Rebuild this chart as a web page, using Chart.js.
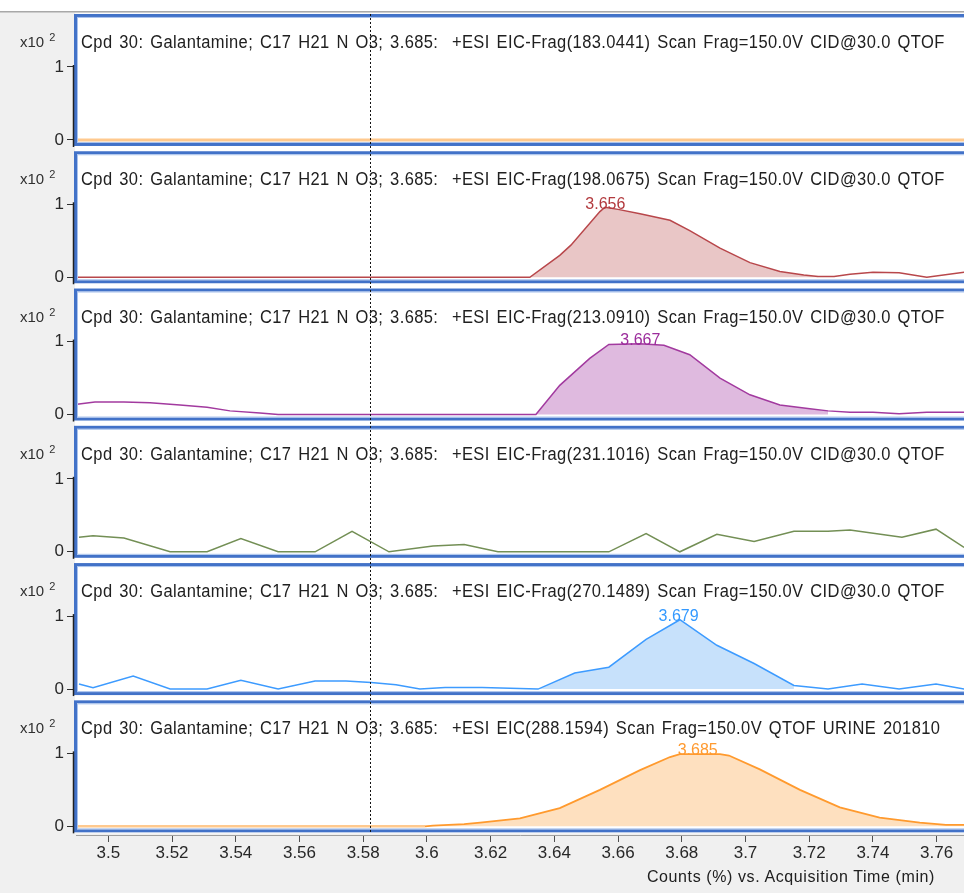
<!DOCTYPE html>
<html>
<head>
<meta charset="utf-8">
<script src="https://cdn.jsdelivr.net/npm/chart.js@4.4.1/dist/chart.umd.min.js"></script>
<style>
html,body{margin:0;padding:0;background:#f0f0f0;overflow:hidden;}
#wrap{position:relative;width:964px;height:893px;overflow:hidden;}
#c{position:absolute;left:0;top:0;}
.ttl{position:absolute;left:81px;font-family:"Liberation Sans",Arial,sans-serif;font-size:16.5px;letter-spacing:0.4px;word-spacing:1.8px;color:#202020;white-space:pre;line-height:18px;transform:scaleY(1.06);transform-origin:left center;}
.mag{position:absolute;left:20px;font-family:"Liberation Sans",Arial,sans-serif;font-size:15px;color:#303030;line-height:18px;white-space:pre;}
.mag sup{font-size:11px;margin-left:5px;vertical-align:6px;line-height:0;}
#xtitle{position:absolute;right:29px;top:868px;font-family:"Liberation Sans",Arial,sans-serif;font-size:16px;letter-spacing:0.6px;color:#202020;white-space:pre;line-height:18px;}
</style>
</head>
<body>
<div id="wrap">
<canvas id="c" width="964" height="893"></canvas>
<div id="titles"></div>
<div id="xtitle">Counts (%) vs. Acquisition Time (min)</div>
</div>
<script>
// ---------- data ----------
const panelTitles = [
  "Cpd 30: Galantamine; C17 H21 N O3; 3.685:  +ESI EIC-Frag(183.0441) Scan Frag=150.0V CID@30.0 QTOF",
  "Cpd 30: Galantamine; C17 H21 N O3; 3.685:  +ESI EIC-Frag(198.0675) Scan Frag=150.0V CID@30.0 QTOF",
  "Cpd 30: Galantamine; C17 H21 N O3; 3.685:  +ESI EIC-Frag(213.0910) Scan Frag=150.0V CID@30.0 QTOF",
  "Cpd 30: Galantamine; C17 H21 N O3; 3.685:  +ESI EIC-Frag(231.1016) Scan Frag=150.0V CID@30.0 QTOF",
  "Cpd 30: Galantamine; C17 H21 N O3; 3.685:  +ESI EIC-Frag(270.1489) Scan Frag=150.0V CID@30.0 QTOF",
  "Cpd 30: Galantamine; C17 H21 N O3; 3.685:  +ESI EIC(288.1594) Scan Frag=150.0V QTOF URINE 201810"
];
const magnitudeLabel = "x10";
const magnitudeExp = "2";

const t183 = [3.4902, 3.7686];
const v183 = [0, 0];

const t198 = [3.4902, 3.6323, 3.6417, 3.6452, 3.6543, 3.6559, 3.6600, 3.6669, 3.6763, 3.6825, 3.6920, 3.7014, 3.7108, 3.7183, 3.7228, 3.7278, 3.7328, 3.7400, 3.7482, 3.7569, 3.7686];
const v198 = [0, 0, 0.30, 0.44, 0.90, 0.96, 0.93, 0.87, 0.78, 0.64, 0.40, 0.20, 0.08, 0.03, 0.01, 0.01, 0.04, 0.07, 0.06, 0.00, 0.07];

const t213 = [3.4902, 3.4958, 3.5049, 3.5131, 3.5225, 3.5310, 3.5382, 3.5476, 3.5533, 3.6323, 3.6342, 3.6417, 3.6511, 3.6571, 3.6669, 3.6744, 3.6825, 3.6920, 3.7014, 3.7108, 3.7202, 3.7259, 3.7328, 3.7400, 3.7482, 3.7569, 3.7686];
const v213 = [0.14, 0.17, 0.17, 0.16, 0.13, 0.10, 0.05, 0.02, 0.00, 0.00, 0.00, 0.40, 0.77, 0.96, 0.97, 0.95, 0.82, 0.50, 0.27, 0.13, 0.08, 0.05, 0.03, 0.03, 0.01, 0.03, 0.03];

const t231 = [3.4908, 3.4952, 3.5049, 3.5194, 3.5310, 3.5416, 3.5533, 3.5649, 3.5765, 3.5881, 3.6019, 3.6117, 3.6223, 3.6571, 3.6688, 3.6794, 3.6910, 3.7027, 3.7152, 3.7259, 3.7328, 3.7491, 3.7598, 3.7686];
const v231 = [0.20, 0.22, 0.19, 0.00, 0.00, 0.18, 0.00, 0.00, 0.28, 0.00, 0.08, 0.10, 0.00, 0.00, 0.25, 0.00, 0.24, 0.14, 0.28, 0.28, 0.30, 0.20, 0.31, 0.06];

const t270 = [3.4908, 3.4952, 3.5078, 3.5194, 3.5310, 3.5416, 3.5533, 3.5649, 3.5746, 3.5825, 3.5903, 3.5978, 3.6057, 3.6173, 3.6349, 3.6464, 3.6571, 3.6688, 3.6794, 3.6910, 3.7027, 3.7152, 3.7259, 3.7366, 3.7482, 3.7598, 3.7686];
const v270 = [0.07, 0.02, 0.18, 0.00, 0.00, 0.12, 0.00, 0.11, 0.11, 0.09, 0.06, 0.00, 0.02, 0.02, 0.00, 0.22, 0.30, 0.68, 0.95, 0.60, 0.35, 0.05, 0.00, 0.07, 0.00, 0.07, 0.00];

const t288 = [3.4902, 3.5994, 3.6019, 3.6117, 3.6167, 3.6292, 3.6417, 3.6543, 3.6669, 3.6763, 3.6794, 3.6920, 3.6948, 3.7045, 3.7171, 3.7296, 3.7421, 3.7547, 3.7629, 3.7686];
const v288 = [0, 0, 0.01, 0.03, 0.05, 0.11, 0.25, 0.50, 0.77, 0.95, 0.99, 0.99, 0.97, 0.78, 0.50, 0.26, 0.12, 0.05, 0.02, 0.02];

const panelTimes = [t183, t198, t213, t231, t270, t288];
const panelValues = [v183, v198, v213, v231, v270, v288];

const peakWindows = [null, [3.6323, 3.7228], [3.6342, 3.7259], null, [3.6349, 3.7183], [3.5994, 3.7686]];
const peakTimes = [null, 3.656, 3.667, null, 3.679, 3.685];
const peakLabels = [null, "3.656", "3.667", null, "3.679", "3.685"];
const cursorTime = 3.5822;

const xTickValues = [3.5, 3.52, 3.54, 3.56, 3.58, 3.6, 3.62, 3.64, 3.66, 3.68, 3.7, 3.72, 3.74, 3.76];
const xTickLabels = ["3.5", "3.52", "3.54", "3.56", "3.58", "3.6", "3.62", "3.64", "3.66", "3.68", "3.7", "3.72", "3.74", "3.76"];
const yTickValues = [0, 1];
const yTickLabels = ["0", "1"];

// ---------- styles ----------
const lineColors = ["#ffc98e", "#b8474b", "#a23a9f", "#738f55", "#3d9bff", "#ff9a2e"];
const baselineColors = [null, null, null, null, null, "#ffc98e"];
const lineWidths = [3, 1.5, 1.5, 1.5, 1.5, 1.8];
const fillColors = [null, "#e9c6c6", "#dfbadf", null, "#c7e1fb", "#fee0bf"];
const labelColors = [null, "#b23a3e", "#9c2c9c", null, "#3399ff", "#ff9a30"];
const FONT = '"Liberation Sans", Arial, sans-serif';

// ---------- build ----------
const datasets = [];
for (let k = 0; k < 6; k++) {
  const pts = panelTimes[k].map((t, i) => ({x: t, y: panelValues[k][i]}));
  const w = peakWindows[k];
  const ds = {
    data: pts, yAxisID: 'y' + k, borderColor: lineColors[k], borderWidth: lineWidths[k],
    pointRadius: 0, fill: false, tension: 0, order: 1
  };
  if (baselineColors[k] && w) {
    ds.segment = {
      borderColor: c => (c.p1.parsed.x <= w[0] + 1e-9) ? baselineColors[k] : undefined,
      borderWidth: c => (c.p1.parsed.x <= w[0] + 1e-9) ? 2.5 : undefined
    };
  }
  datasets.push(ds);
  if (w) {
    datasets.push({
      data: pts.filter(p => p.x >= w[0] - 1e-9 && p.x <= w[1] + 1e-9),
      yAxisID: 'y' + k, borderWidth: 0, borderColor: 'rgba(0,0,0,0)',
      backgroundColor: fillColors[k], pointRadius: 0, fill: 'origin', tension: 0, order: 2
    });
  }
}

const scales = {
  x: {
    type: 'linear', position: 'bottom', min: 3.48986, max: 3.76858,
    afterBuildTicks: s => { s.ticks = xTickValues.map(v => ({value: v})); },
    afterFit: s => { s.height = 58; s.paddingLeft = 0; s.paddingRight = 0; },
    ticks: { callback: v => xTickLabels[xTickValues.indexOf(v)], font: {size: 17, family: FONT}, color: '#282828', padding: 1, maxRotation: 0, autoSkip: false },
    grid: { drawOnChartArea: false, drawTicks: true, tickLength: 7, color: '#505050' },
    border: { display: true, color: '#a0a0a0' }
  }
};
for (let k = 0; k < 6; k++) {
  scales['y' + k] = {
    type: 'linear', position: 'left', stack: 'panels', stackWeight: 1, weight: 6 - k,
    min: -0.1185, max: 1.7623,
    afterBuildTicks: s => { s.ticks = yTickValues.map(v => ({value: v})); },
    afterFit: s => { s.width = 76; s.paddingTop = 0; s.paddingBottom = 0; },
    ticks: { callback: v => yTickLabels[yTickValues.indexOf(v)], font: {size: 17, family: FONT}, color: '#282828', padding: 3 },
    grid: { drawOnChartArea: false, drawTicks: true, tickLength: 9, color: '#303030' },
    border: { display: false }
  };
}

const decor = {
  id: 'decor',
  beforeDraw(chart) {
    const ctx = chart.ctx, W = chart.width, H = chart.height;
    ctx.save();
    ctx.fillStyle = '#f0f0f0'; ctx.fillRect(0, 0, W, H);
    ctx.fillStyle = '#ffffff'; ctx.fillRect(0, 0, W, 11);
    ctx.fillStyle = '#a8a8a8'; ctx.fillRect(0, 11, W, 1.5);
    const xs = chart.scales.x;
    const top0 = chart.scales.y0.getPixelForValue(0) - 126;
    const bot5 = chart.scales.y5.getPixelForValue(0) + 6;
    ctx.fillStyle = '#ffffff'; ctx.fillRect(xs.left - 1, top0 - 1, W, bot5 - top0 + 2);
    ctx.restore();
  },
  afterDatasetsDraw(chart) {
    const ctx = chart.ctx, xs = chart.scales.x;
    ctx.save();
    let firstTop = 0, lastBot = 0;
    for (let k = 0; k < 6; k++) {
      const ys = chart.scales['y' + k];
      const z = ys.getPixelForValue(0), one = ys.getPixelForValue(1);
      const top = z - 126, bot = z + 6;
      if (k === 0) firstTop = top;
      if (k === 5) lastBot = bot;
      ctx.strokeStyle = '#4272c8'; ctx.lineWidth = 3;
      ctx.strokeRect(xs.left - 0.5, top + 1.5, chart.width + 20, bot - top - 3);
      ctx.strokeStyle = '#a9c2ec'; ctx.lineWidth = 1;
      ctx.strokeRect(xs.left + 1.5, top + 3.5, chart.width + 20, bot - top - 7);
      ctx.strokeStyle = '#202020'; ctx.lineWidth = 1.5;
      ctx.beginPath(); ctx.moveTo(xs.left - 2.5, one - 2); ctx.lineTo(xs.left - 2.5, bot + 1); ctx.stroke();
      if (peakLabels[k]) {
        let vmax = 0;
        panelValues[k].forEach((v, i) => { if (panelTimes[k][i] >= peakWindows[k][0] && panelTimes[k][i] <= peakWindows[k][1]) vmax = Math.max(vmax, v); });
        ctx.fillStyle = labelColors[k];
        ctx.font = '16px ' + FONT;
        ctx.textAlign = 'center'; ctx.textBaseline = 'middle';
        ctx.fillText(peakLabels[k], xs.getPixelForValue(peakTimes[k]), ys.getPixelForValue(vmax) - 3);
      }
    }
    const cx = Math.round(xs.getPixelForValue(cursorTime)) + 0.5;
    ctx.strokeStyle = '#111'; ctx.lineWidth = 1; ctx.setLineDash([2, 2]);
    ctx.beginPath(); ctx.moveTo(cx, firstTop); ctx.lineTo(cx, lastBot); ctx.stroke();
    ctx.restore();
  }
};

const chart = new Chart(document.getElementById('c'), {
  type: 'line',
  data: { datasets },
  options: {
    responsive: false, animation: false, devicePixelRatio: 1,
    layout: { padding: { top: 11.35, left: 0, right: 0, bottom: 0 } },
    plugins: { legend: { display: false }, tooltip: { enabled: false } },
    scales
  },
  plugins: [decor]
});

const tc = document.getElementById('titles');
for (let k = 0; k < 6; k++) {
  const z = chart.scales['y' + k].getPixelForValue(0);
  const d = document.createElement('div');
  d.className = 'ttl'; d.style.top = (z - 107) + 'px'; d.textContent = panelTitles[k];
  tc.appendChild(d);
  const m = document.createElement('div');
  m.className = 'mag'; m.style.top = (z - 107) + 'px';
  m.innerHTML = magnitudeLabel + '<sup>' + magnitudeExp + '</sup>';
  tc.appendChild(m);
}
</script>
</body>
</html>
